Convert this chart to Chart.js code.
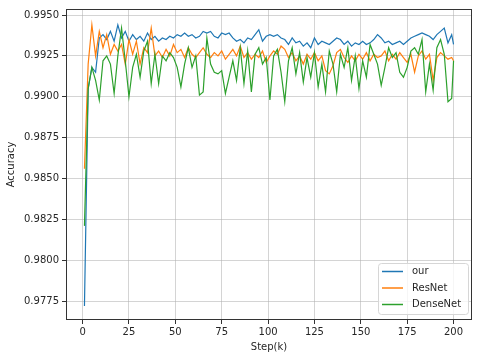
<!DOCTYPE html>
<html>
<head>
<meta charset="utf-8">
<script src="https://cdn.jsdelivr.net/npm/chart.js@4"></script>
<style>
  html, body { margin: 0; padding: 0; background: #fff; }
  canvas { display: block; }
</style>
</head>
<body>
<canvas id="accChart" width="480" height="358"></canvas>
<script>
// training steps (k) where accuracy was sampled
const steps = [1,3,5,7,9,11,13,15,17,19,21,23,25,27,29,31,33,35,37,39,
  41,43,45,47,49,51,53,55,57,59,61,63,65,67,69,71,73,75,77,79,
  81,83,85,87,89,91,93,95,97,99,101,103,105,107,109,111,113,115,117,119,
  121,123,125,127,129,131,133,135,137,139,141,143,145,147,149,151,153,155,157,159,
  161,163,165,167,169,171,173,175,177,179,181,183,185,187,189,191,193,195,197,199,200];

const ourAcc = [0.9772,0.9905,0.9918,0.9915,0.9936,0.9938,0.9935,0.9940,0.9934,0.9944,
  0.9936,0.9940,0.9934,0.9938,0.9935,0.9937,0.9934,0.9939,0.9935,0.9937,
  0.9934,0.9936,0.9935,0.9937,0.9936,0.9938,0.9937,0.9939,0.9937,0.9938,
  0.9936,0.9937,0.9940,0.9939,0.9940,0.9937,0.9936,0.9939,0.9938,0.9939,
  0.9936,0.9934,0.9935,0.9933,0.9936,0.9935,0.9938,0.9941,0.9934,0.9937,
  0.9938,0.9937,0.9938,0.9936,0.9935,0.9932,0.9936,0.9933,0.9934,0.9931,
  0.9933,0.9930,0.9936,0.9932,0.9934,0.9933,0.9932,0.9934,0.9936,0.9935,
  0.9932,0.9934,0.9931,0.9933,0.9932,0.9934,0.9932,0.9933,0.9935,0.9938,
  0.9936,0.9933,0.9934,0.9932,0.9933,0.9934,0.9932,0.9934,0.9936,0.9937,
  0.9938,0.9939,0.9938,0.9937,0.9935,0.9938,0.9940,0.9942,0.9933,0.9938,0.9932];

const resnetAcc = [0.9856,0.9920,0.9944,0.9925,0.9940,0.9930,0.9938,0.9926,0.9932,0.9928,
  0.9932,0.9920,0.9935,0.9926,0.9934,0.9920,0.9930,0.9927,0.9942,0.9925,
  0.9928,0.9924,0.9929,0.9925,0.9932,0.9927,0.9929,0.9924,0.9930,0.9926,
  0.9924,0.9927,0.9930,0.9926,0.9924,0.9927,0.9925,0.9928,0.9923,0.9926,
  0.9929,0.9925,0.9931,0.9924,0.9927,0.9923,0.9926,0.9924,0.9928,0.9921,
  0.9925,0.9928,0.9926,0.9931,0.9929,0.9924,0.9927,0.9922,0.9925,0.9920,
  0.9926,0.9923,0.9927,0.9922,0.9925,0.9916,0.9914,0.9919,0.9927,0.9929,
  0.9924,0.9921,0.9925,0.9922,0.9926,0.9923,0.9927,0.9922,0.9926,0.9924,
  0.9925,0.9928,0.9922,0.9926,0.9923,0.9927,0.9924,0.9921,0.9926,0.9915,
  0.9925,0.9928,0.9923,0.9926,0.9910,0.9924,0.9927,0.9925,0.9923,0.9924,0.9922];

const densenetAcc = [0.9821,0.9905,0.9918,0.9910,0.9898,0.9922,0.9925,0.9920,0.9902,0.9925,
  0.9942,0.9922,0.9900,0.9918,0.9926,0.9912,0.9928,0.9934,0.9908,0.9926,
  0.9908,0.9925,0.9922,0.9927,0.9924,0.9918,0.9906,0.9920,0.9930,0.9918,
  0.9925,0.9901,0.9903,0.9936,0.9920,0.9915,0.9914,0.9916,0.9902,0.9912,
  0.9922,0.9910,0.9930,0.9908,0.9928,0.9903,0.9926,0.9930,0.9920,0.9924,
  0.9898,0.9925,0.9929,0.9915,0.9897,0.9922,0.9930,0.9914,0.9927,0.9909,
  0.9924,0.9912,0.9927,0.9906,0.9920,0.9903,0.9928,0.9920,0.9903,0.9926,
  0.9918,0.9930,0.9910,0.9925,0.9905,0.9922,0.9912,0.9932,0.9926,0.9920,
  0.9907,0.9918,0.9930,0.9924,0.9927,0.9915,0.9912,0.9918,0.9928,0.9930,
  0.9926,0.9935,0.9903,0.9920,0.9904,0.9930,0.9935,0.9926,0.9897,0.9899,0.9922];

const xTicks = [0, 25, 50, 75, 100, 125, 150, 175, 200];
const yTicks = [0.9775, 0.9800, 0.9825, 0.9850, 0.9875, 0.9900, 0.9925, 0.9950];

const FONT = 'DejaVu Sans';
const TEXT = '#262626';

function toPoints(vals) {
  return steps.map((s, i) => ({ x: s, y: vals[i] }));
}

// frame around the plot area + matplotlib-like legend box
const framePlugin = {
  id: 'frame',
  afterDraw(chart) {
    const { ctx, chartArea: a } = chart;
    ctx.save();
    ctx.strokeStyle = '#333';
    ctx.lineWidth = 1;
    ctx.strokeRect(a.left + 0.5, a.top + 0.5, a.right - a.left - 1, a.bottom - a.top - 1);

    // legend
    const bx = 378, by = 263, bw = 90, bh = 51, r = 3;
    ctx.fillStyle = 'rgba(255,255,255,0.8)';
    ctx.strokeStyle = '#d6d6d6';
    ctx.beginPath();
    ctx.roundRect(bx + 0.5, by + 0.5, bw, bh, r);
    ctx.fill();
    ctx.stroke();
    ctx.font = '10px "' + FONT + '"';
    ctx.textBaseline = 'middle';
    chart.data.datasets.forEach((ds, i) => {
      const y = by + 8.5 + i * 16.5;
      ctx.strokeStyle = ds.borderColor;
      ctx.lineWidth = 1.5;
      ctx.beginPath();
      ctx.moveTo(bx + 4, y);
      ctx.lineTo(bx + 25, y);
      ctx.stroke();
      ctx.fillStyle = TEXT;
      ctx.fillText(ds.label, bx + 34, y);
    });
    ctx.restore();
  }
};

window.onload = function () {
  const ctx = document.getElementById('accChart').getContext('2d');
  new Chart(ctx, {
    type: 'line',
    data: {
      datasets: [
        { label: 'our', data: toPoints(ourAcc), borderColor: '#1f77b4', order: 3 },
        { label: 'ResNet', data: toPoints(resnetAcc), borderColor: '#ff7f0e', order: 2 },
        { label: 'DenseNet', data: toPoints(densenetAcc), borderColor: '#2ca02c', order: 1 }
      ]
    },
    options: {
      responsive: false,
      animation: false,
      devicePixelRatio: 1,
      layout: { padding: { top: 8, right: 8, left: 0, bottom: 0 } },
      elements: {
        point: { radius: 0 },
        line: { borderWidth: 1.2, tension: 0, fill: false }
      },
      plugins: {
        legend: { display: false },
        tooltip: { enabled: false }
      },
      scales: {
        x: {
          type: 'linear',
          min: -8.95,
          max: 209.95,
          afterBuildTicks: (s) => { s.ticks = xTicks.map(v => ({ value: v })); },
          afterFit: (s) => { s.height = 38; },
          ticks: {
            font: { family: FONT, size: 10 },
            color: TEXT,
            padding: 2,
            maxRotation: 0,
            callback: (v) => String(v)
          },
          grid: { color: 'rgba(176,176,176,0.55)', lineWidth: 1, tickLength: 4, tickColor: '#333' },
          border: { display: false },
          title: {
            display: true,
            text: 'Step(k)',
            font: { family: FONT, size: 10 },
            color: TEXT,
            padding: { top: 0, bottom: 5 }
          }
        },
        y: {
          min: 0.97634,
          max: 0.99537,
          afterBuildTicks: (s) => { s.ticks = yTicks.map(v => ({ value: v })); },
          afterFit: (s) => { s.width = 66; },
          ticks: {
            font: { family: FONT, size: 10 },
            color: TEXT,
            padding: 3,
            callback: (v) => Number(v).toFixed(4)
          },
          grid: { color: 'rgba(176,176,176,0.55)', lineWidth: 1, tickLength: 4, tickColor: '#333' },
          border: { display: false },
          title: {
            display: true,
            text: 'Accuracy',
            font: { family: FONT, size: 10 },
            color: TEXT,
            padding: { top: 5, bottom: 0 }
          }
        }
      }
    },
    plugins: [framePlugin]
  });
};
</script>
</body>
</html>
